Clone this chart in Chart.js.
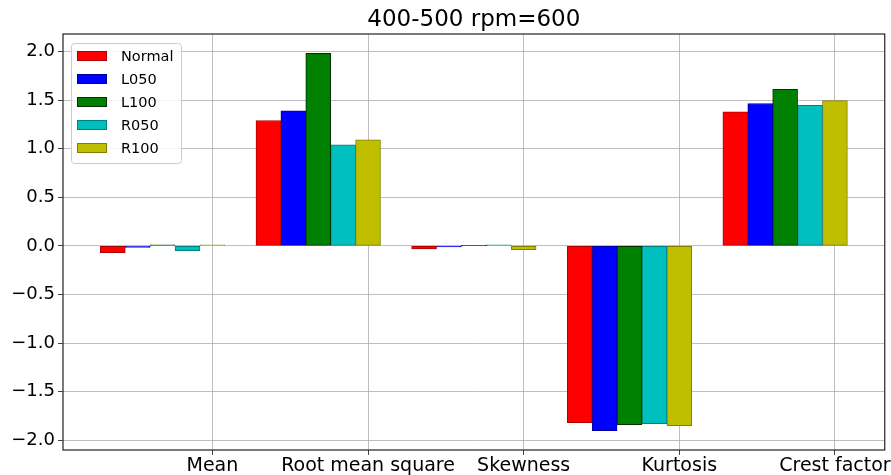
<!DOCTYPE html>
<html>
<head>
<meta charset="utf-8">
<script src="https://cdn.jsdelivr.net/npm/chart.js@4/dist/chart.umd.min.js"></script>
<style>
  html, body { margin: 0; padding: 0; background: #fff; }
  #wrap { width: 891px; height: 475px; }
</style>
</head>
<body>
<div id="wrap"><canvas id="c" width="891" height="475"></canvas></div>
<script>
const titleText = '400-500 rpm=600';
const categories = ['Mean', 'Root mean square', 'Skewness', 'Kurtosis', 'Crest factor'];
const seriesNames = ['Normal', 'L050', 'L100', 'R050', 'R100'];
const normal = [-0.07, 1.29, -0.03, -1.82, 1.38];
const l050   = [-0.015, 1.39, -0.01, -1.90, 1.465];
const l100   = [0.01, 1.98, 0.002, -1.84, 1.61];
const r050   = [-0.05, 1.04, 0.01, -1.83, 1.445];
const r100   = [0.01, 1.09, -0.04, -1.85, 1.495];
const yTicks = [-2.0, -1.5, -1.0, -0.5, 0.0, 0.5, 1.0, 1.5, 2.0];

const seriesValues = [normal, l050, l100, r050, r100];
const fills = ['#ff0000', '#0000ff', '#008000', '#00bfbf', '#bfbf00'];
const edges = ['#b00000', '#0000a0', '#003000', '#008080', '#808000'];
const barW = 0.16;
const FONT = "'DejaVu Sans', 'Liberation Sans', sans-serif";

const datasets = seriesValues.map((vals, k) => ({
  label: seriesNames[k],
  data: vals.map((v, i) => ({ x: i + (k - 4) * barW, y: v })),
  backgroundColor: fills[k],
  borderColor: edges[k],
  borderWidth: 1,
  borderSkipped: false,
  grouped: false,
  barPercentage: 1,
  categoryPercentage: 1
}));

const framePlugin = {
  id: 'frame',
  afterDraw(chart) {
    const { ctx, chartArea: a } = chart;
    ctx.save();
    ctx.fillStyle = '#000';
    ctx.font = '23px ' + FONT;
    ctx.textAlign = 'center';
    ctx.textBaseline = 'middle';
    ctx.fillText(titleText, (a.left + a.right) / 2, 20);
    ctx.strokeStyle = '#222';
    ctx.lineWidth = 1.2;
    ctx.strokeRect(a.left, a.top, a.right - a.left, a.bottom - a.top);
    const lx = a.left + 8, ly = a.top + 9, lw = 110, lh = 120;
    ctx.fillStyle = 'rgba(255,255,255,0.85)';
    ctx.strokeStyle = '#cccccc';
    ctx.lineWidth = 1;
    ctx.beginPath();
    ctx.roundRect(lx + 0.5, ly + 0.5, lw, lh, 3);
    ctx.fill();
    ctx.stroke();
    ctx.font = '14.5px ' + FONT;
    ctx.textAlign = 'left';
    ctx.textBaseline = 'middle';
    seriesNames.forEach((name, k) => {
      const cy = ly + 13 + k * 23;
      ctx.fillStyle = fills[k];
      ctx.fillRect(lx + 6, cy - 5, 30, 10);
      ctx.strokeStyle = edges[k];
      ctx.strokeRect(lx + 6.5, cy - 4.5, 29, 9);
      ctx.fillStyle = '#000';
      ctx.fillText(name, lx + 50, cy + 1);
    });
    ctx.restore();
  }
};

new Chart(document.getElementById('c'), {
  type: 'bar',
  data: { datasets },
  options: {
    responsive: false,
    animation: false,
    layout: { padding: { top: 34, right: 6, left: 0, bottom: 0 } },
    plugins: {
      legend: { display: false },
      title: { display: false },
      tooltip: { enabled: false }
    },
    scales: {
      x: {
        type: 'linear',
        min: -0.96,
        max: 4.32,
        offset: false,
        z: 1,
        grid: { offset: false, color: 'rgba(170,170,170,0.75)', lineWidth: 1, tickLength: 5, tickColor: '#444' },
        border: { display: false },
        afterBuildTicks: (s) => { s.ticks = categories.map((c, i) => ({ value: i })); },
        afterFit: (s) => { s.height = 25; },
        ticks: {
          autoSkip: false,
          maxRotation: 0,
          padding: 0,
          color: '#000',
          font: { family: FONT, size: 19 },
          callback: (v) => categories[Math.round(v)]
        }
      },
      y: {
        min: -2.1,
        max: 2.18,
        z: 1,
        grid: { color: 'rgba(170,170,170,0.75)', lineWidth: 1, tickLength: 5, tickColor: '#444' },
        border: { display: false },
        afterBuildTicks: (s) => { s.ticks = yTicks.map(v => ({ value: v })); },
        afterFit: (s) => { s.width = 63; },
        ticks: {
          padding: 3,
          color: '#000',
          font: { family: FONT, size: 18 },
          callback: (v) => (v < 0 ? '\u2212' : '') + Math.abs(v).toFixed(1)
        }
      }
    }
  },
  plugins: [framePlugin]
});
</script>
</body>
</html>
